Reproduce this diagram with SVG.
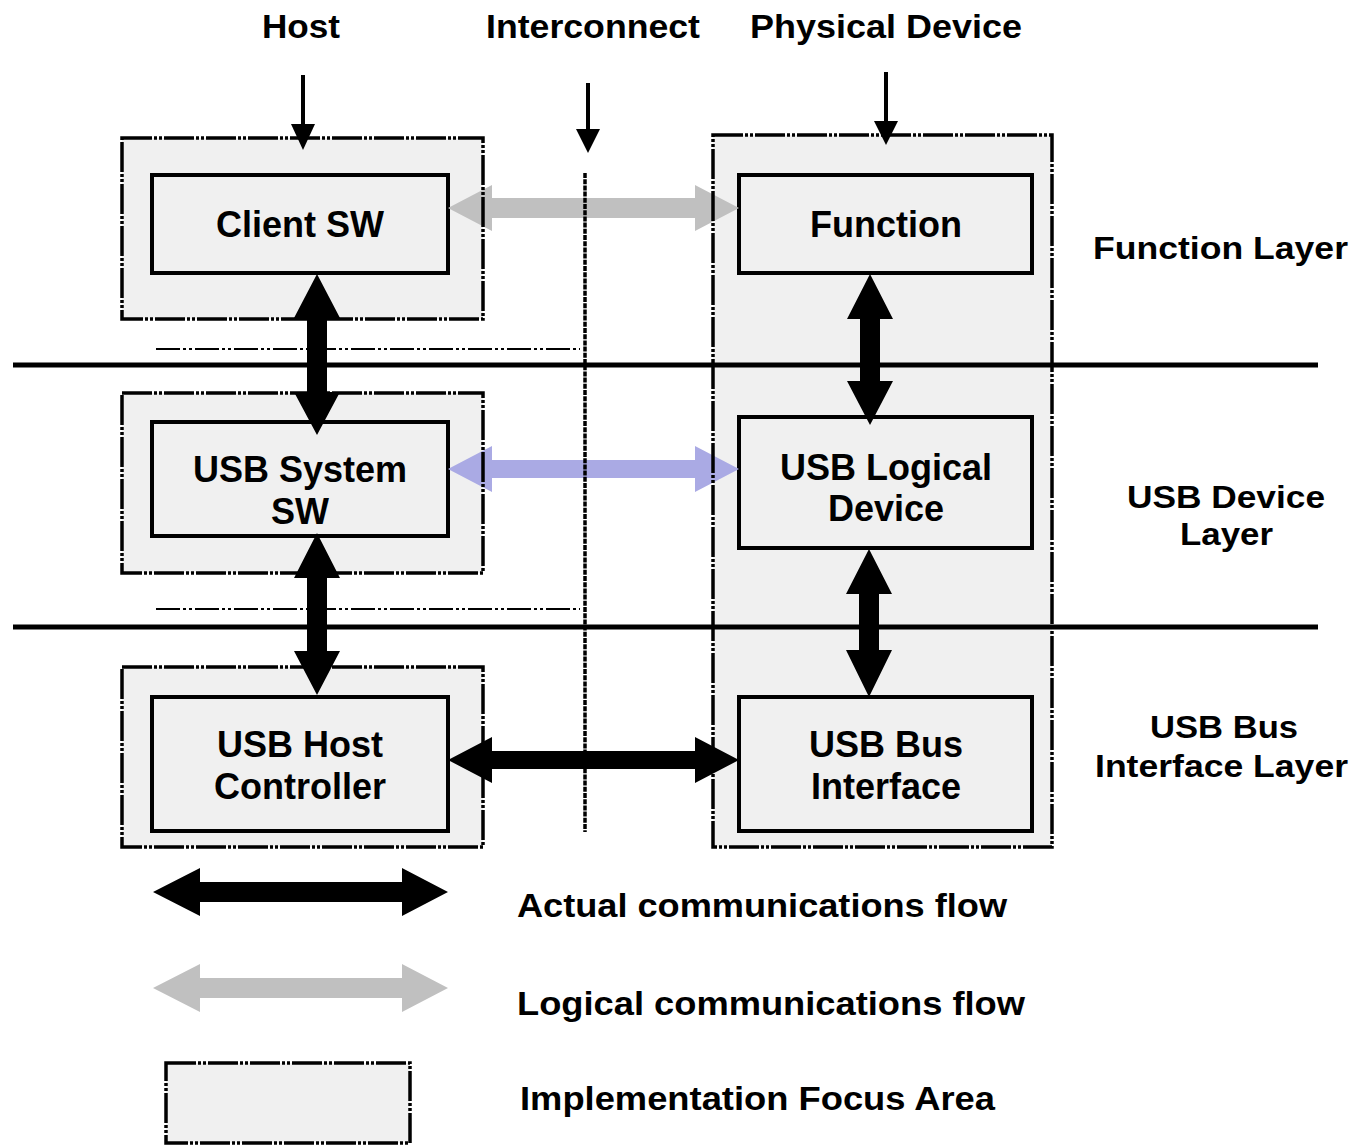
<svg xmlns="http://www.w3.org/2000/svg" width="1357" height="1145" viewBox="0 0 1357 1145">
<style>
text{font-family:"Liberation Sans",Arial,sans-serif;font-weight:bold;fill:#000}
.hd{font-size:33px}
.bx{font-size:36px;text-anchor:middle}
.ly{font-size:32px}
.lg{font-size:33px}
.area{fill:#f0f0f0;stroke:none}
.areab{fill:none;stroke:#000;stroke-width:3.5;stroke-dasharray:30 2 3 2 3 2}
.box{fill:#f0f0f0;stroke:#000;stroke-width:4}
.thin{stroke:#000;stroke-width:2;stroke-dasharray:24 3 3 3 3 3;fill:none}
.layerline{stroke:#000;stroke-width:5}
.blk{fill:#000}
.gry{fill:#c0c0c0}
.pur{fill:#aaaae4}
</style>
<rect width="1357" height="1145" fill="#fff"/>

<g id="headers">
<text class="hd" x="262" y="38" textLength="78" lengthAdjust="spacingAndGlyphs">Host</text>
<text class="hd" x="486" y="38" textLength="214" lengthAdjust="spacingAndGlyphs">Interconnect</text>
<text class="hd" x="750" y="38" textLength="272" lengthAdjust="spacingAndGlyphs">Physical Device</text>
</g>

<g id="focus-host-function"><rect class="area" x="122" y="138" width="361" height="181"/></g>
<g id="focus-host-device"><rect class="area" x="122" y="393" width="361" height="180"/></g>
<g id="focus-host-bus"><rect class="area" x="122" y="667" width="361" height="180"/></g>
<g id="focus-physical-device"><rect class="area" x="713" y="135" width="339" height="712"/></g>

<g id="layer-lines">
<line class="thin" x1="156" y1="349" x2="580" y2="349"/>
<line class="thin" x1="156" y1="609" x2="580" y2="609"/>
<line class="layerline" x1="13" y1="365" x2="1318" y2="365"/>
<line class="layerline" x1="13" y1="627" x2="1318" y2="627"/>
</g>

<g id="client-sw"><rect class="box" x="152" y="175" width="296" height="98"/><text class="bx" x="300" y="237">Client SW</text></g>
<g id="usb-system-sw"><rect class="box" x="152" y="422" width="296" height="114"/><text class="bx" x="300" y="482">USB System</text><text class="bx" x="300" y="524">SW</text></g>
<g id="usb-host-controller"><rect class="box" x="152" y="697" width="296" height="134"/><text class="bx" x="300" y="757">USB Host</text><text class="bx" x="300" y="799">Controller</text></g>
<g id="function"><rect class="box" x="739" y="175" width="293" height="98"/><text class="bx" x="886" y="237">Function</text></g>
<g id="usb-logical-device"><rect class="box" x="739" y="417" width="293" height="131"/><text class="bx" x="886" y="480">USB Logical</text><text class="bx" x="886" y="521">Device</text></g>
<g id="usb-bus-interface"><rect class="box" x="739" y="697" width="293" height="134"/><text class="bx" x="886" y="757">USB Bus</text><text class="bx" x="886" y="799">Interface</text></g>

<g id="connectors">
<line x1="303" y1="75" x2="303" y2="127" stroke="#000" stroke-width="4"/>
<polygon class="blk" points="291,124 315,124 303,150"/>
<line x1="588" y1="83" x2="588" y2="132" stroke="#000" stroke-width="4"/>
<polygon class="blk" points="576,129 600,129 588,153"/>
<line x1="886" y1="72" x2="886" y2="124" stroke="#000" stroke-width="4"/>
<polygon class="blk" points="874,121 898,121 886,145"/>

<polygon class="gry" points="448,208 492,185 492,198 695,198 695,185 739,208 695,231 695,218 492,218 492,231"/>
<polygon class="pur" points="448,469 492,446 492,460 695,460 695,446 739,469 695,492 695,478 492,478 492,492"/>
<polygon class="blk" points="448,760 492,737 492,751 695,751 695,737 739,760 695,783 695,769 492,769 492,783"/>

<polygon class="blk" points="317,274 340,318 327,318 327,392 340,392 317,435 294,392 307,392 307,318 294,318"/>
<polygon class="blk" points="317,533 340,578 327,578 327,651 340,651 317,695 294,651 307,651 307,578 294,578"/>
<polygon class="blk" points="870,274 893,319 880,319 880,381 893,381 870,425 847,381 860,381 860,319 847,319"/>
<polygon class="blk" points="869,549 892,594 879,594 879,650 892,650 869,697 846,650 859,650 859,594 846,594"/>

<line x1="585" y1="173" x2="585" y2="832" stroke="#000" stroke-width="3.5" stroke-dasharray="5 1.2"/>
</g>

<g id="focus-borders">
<rect class="areab" x="122" y="138" width="361" height="181"/>
<rect class="areab" x="122" y="393" width="361" height="180"/>
<rect class="areab" x="122" y="667" width="361" height="180"/>
<rect class="areab" x="713" y="135" width="339" height="712"/>
</g>

<g id="layer-labels">
<text class="ly" x="1093" y="259" textLength="255" lengthAdjust="spacingAndGlyphs">Function Layer</text>
<text class="ly" x="1127" y="508" textLength="198" lengthAdjust="spacingAndGlyphs">USB Device</text>
<text class="ly" x="1180" y="545" textLength="93" lengthAdjust="spacingAndGlyphs">Layer</text>
<text class="ly" x="1150" y="738" textLength="148" lengthAdjust="spacingAndGlyphs">USB Bus</text>
<text class="ly" x="1095" y="777" textLength="253" lengthAdjust="spacingAndGlyphs">Interface Layer</text>
</g>

<g id="legend">
<polygon class="blk" points="153,892 200,868 200,882 402,882 402,868 448,892 402,916 402,902 200,902 200,916"/>
<polygon class="gry" points="153,988 200,964 200,978 402,978 402,964 448,988 402,1012 402,998 200,998 200,1012"/>
<rect class="area" x="166" y="1063" width="244" height="80"/>
<rect class="areab" x="166" y="1063" width="244" height="80"/>
<text class="lg" x="517" y="917" textLength="490" lengthAdjust="spacingAndGlyphs">Actual communications flow</text>
<text class="lg" x="517" y="1015" textLength="508" lengthAdjust="spacingAndGlyphs">Logical communications flow</text>
<text class="lg" x="520" y="1110" textLength="475" lengthAdjust="spacingAndGlyphs">Implementation Focus Area</text>
</g>
</svg>
